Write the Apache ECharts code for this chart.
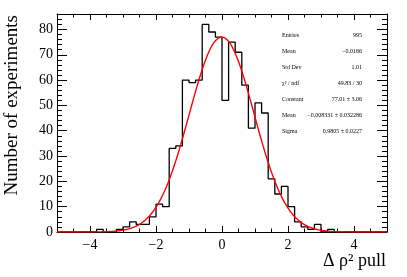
<!DOCTYPE html>
<html><head><meta charset="utf-8">
<script src="https://cdn.jsdelivr.net/npm/echarts@6/dist/echarts.min.js"></script>
<style>html,body{margin:0;padding:0;background:#fff}#c{width:407px;height:277px}</style>
</head><body><div id="c"></div>
<script>
// ---- data ----
const binLow = -5, binWidth = 0.2;
const counts = [0,0,0,0,0,0,1,0,0,1,2,4,3,3,6,11,10,33,34,60,59,60,82,79,77,52,75,71,58,41,51,47,21,15,18,10,4,2,1,3,0,1,0,0,0,0,0,0,0,0];
// Gaussian fit parameters (from the stats box)
const fitConstant = 77.01, fitMean = -0.008331, fitSigma = 0.9805;
const xLabelValues = [-4, -2, 0, 2, 4];
const xMinorValues = [-5,-4.5,-4,-3.5,-3,-2.5,-2,-1.5,-1,-0.5,0,0.5,1,1.5,2,2.5,3,3.5,4,4.5,5];
const yLabelValues = [0, 10, 20, 30, 40, 50, 60, 70, 80];
const yMinorValues = [0,2,4,6,8,10,12,14,16,18,20,22,24,26,28,30,32,34,36,38,40,42,44,46,48,50,52,54,56,58,60,62,64,66,68,70,72,74,76,78,80,82,84,86];
const statsLabels = ['Entries', 'Mean', 'Std Dev', 'χ² / ndf', 'Constant', 'Mean', 'Sigma'];
const statsValues = ['995', '−0.0166', '1.01', '49.83 / 30', '77.01 ± 3.06', '−0.008331 ± 0.032286', '0.9805 ± 0.0227'];
const xTitle = 'Δ ρ² pull';
const yTitle = 'Number of experiments';

// ---- build ----
const nBins = counts.length;
const histPts = [];
for (let k = 0; k < nBins; k++) histPts.push([binLow + k * binWidth, counts[k]]);
histPts.push([binLow + nBins * binWidth, counts[nBins - 1]]);

const fitPts = [];
const xMin = binLow, xMax = binLow + nBins * binWidth;
for (let i = 0; i <= 400; i++) {
  const x = xMin + (xMax - xMin) * i / 400;
  fitPts.push([x, fitConstant * Math.exp(-0.5 * Math.pow((x - fitMean) / fitSigma, 2))]);
}
const yMax = 86.1;
const FONT = '"Liberation Serif", "DejaVu Serif", serif';
const fmt = v => (v < 0 ? '−' + (-v) : '' + v);

function xAx(pos, ticks, len, labels, line) {
  return {
    type: 'value', min: xMin, max: xMax, position: pos,
    axisLine: { show: line, onZero: false, lineStyle: { color: '#000', width: 1 } },
    axisTick: { show: true, inside: true, length: len, customValues: ticks, lineStyle: { color: '#000', width: 1 } },
    axisLabel: labels ? { customValues: xLabelValues, formatter: fmt, fontFamily: FONT, fontSize: 14, color: '#000', margin: 6 } : { show: false },
    splitLine: { show: false }
  };
}
function yAx(pos, ticks, len, labels, line) {
  return {
    type: 'value', min: 0, max: yMax, position: pos,
    axisLine: { show: line, onZero: false, lineStyle: { color: '#000', width: 1 } },
    axisTick: { show: true, inside: true, length: len, customValues: ticks, lineStyle: { color: '#000', width: 1 } },
    axisLabel: labels ? { customValues: yLabelValues, formatter: fmt, fontFamily: FONT, fontSize: 14, color: '#000', margin: 4 } : { show: false },
    splitLine: { show: false }
  };
}

const graphics = [];
statsLabels.forEach((t, i) => {
  const y = 35 + 16 * i;
  graphics.push({ type: 'text', x: 282, y: y, style: { text: t, font: '6px ' + FONT, fill: '#000', textAlign: 'left', textVerticalAlign: 'middle' } });
  graphics.push({ type: 'text', x: 362, y: y, style: { text: statsValues[i], font: '6px ' + FONT, fill: '#000', textAlign: 'right', textVerticalAlign: 'middle' } });
});
graphics.push({ type: 'text', x: 386, y: 261, style: { text: xTitle, font: '18px ' + FONT, fill: '#000', textAlign: 'right', textVerticalAlign: 'middle' } });
graphics.push({ type: 'text', x: 12, y: 15, rotation: Math.PI / 2, style: { text: yTitle, font: '19px ' + FONT, fill: '#000', textAlign: 'right', textVerticalAlign: 'middle' } });

const chart = echarts.init(document.getElementById('c'), null, { renderer: 'canvas' });
chart.setOption({
  animation: false,
  backgroundColor: '#fff',
  grid: { left: 57, right: 20, top: 14, bottom: 45, containLabel: false },
  xAxis: [
    xAx('bottom', xLabelValues, 6, true, true),
    xAx('bottom', xMinorValues, 3.5, false, false),
    xAx('top', xLabelValues, 6, false, true),
    xAx('top', xMinorValues, 3.5, false, false)
  ],
  yAxis: [
    yAx('left', yLabelValues, 10, true, true),
    yAx('left', yMinorValues, 5, false, false),
    yAx('right', yLabelValues, 10, false, true),
    yAx('right', yMinorValues, 5, false, false)
  ],
  series: [
    { type: 'line', xAxisIndex: 0, yAxisIndex: 0, data: histPts, step: 'end', symbol: 'none',
      lineStyle: { color: '#000', width: 1.3 }, z: 2 },
    { type: 'line', xAxisIndex: 0, yAxisIndex: 0, data: fitPts, symbol: 'none', smooth: false,
      lineStyle: { color: '#ff0000', width: 1.4 }, z: 3 }
  ],
  graphic: graphics
});
</script></body></html>
